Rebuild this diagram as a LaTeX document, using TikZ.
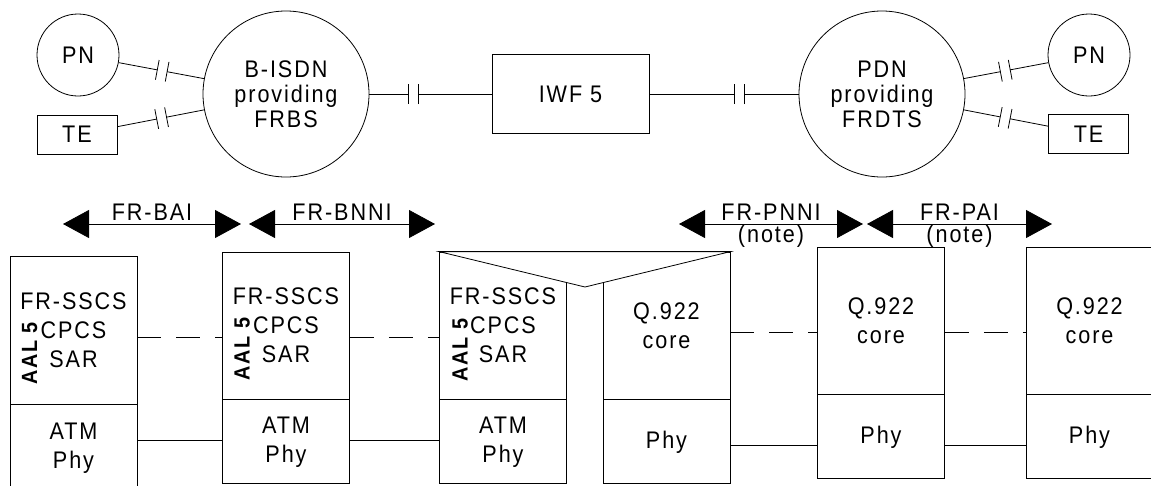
\documentclass[tikz,border=0pt]{standalone}
\usepackage{fontspec}
\setmainfont{Liberation Sans}[FakeStretch=0.9,LetterSpace=8]
\usepackage{tikz}
\usetikzlibrary{arrows.meta,positioning,calc}

\newcommand{\gapline}[3]{%
	\path (#1) -- coordinate[pos=#3] (gm) (#2);
	\draw (#1) -- ($(gm)!5pt!(#1)$) coordinate (ga);
	\draw (#2) -- ($(gm)!5pt!(#2)$) coordinate (gb);
	\draw ($(ga)!10pt!90:(gm)$) -- ($(ga)!10pt!-90:(gm)$);
	\draw ($(gb)!10pt!90:(gm)$) -- ($(gb)!10pt!-90:(gm)$);
}

\begin{document}
\begin{tikzpicture}[
			x=1pt, y=-1pt,
			line width=0.8pt,
			node distance=0pt,
			font=\fontsize{24}{29}\selectfont,
			net/.style={
				circle, draw, align=center, inner sep=0pt,
				minimum size=166pt, font=\fontsize{24}{25}\selectfont
			},
			pn/.style={circle, draw, inner sep=0pt, minimum size=82pt},
			term/.style={rectangle, draw, inner sep=0pt, minimum width=80pt, minimum height=39pt},
			layer/.style={
				rectangle, draw, align=center, inner sep=0pt,
				minimum width=127pt
			},
			aal/.style={rotate=90, inner sep=0pt, font=\fontsize{22}{22}\selectfont\bfseries},
			iface/.style={{Triangle[length=26pt,width=28pt]}-{Triangle[length=26pt,width=28pt]}},
			peer/.style={dash pattern=on 24pt off 15pt}
			]
			\useasboundingbox (0,0) rectangle (1151,485);

			\node[pn] (pnl) at (78,55) {PN};
			\node[term] (tel) at (77,134.5) {TE};
			\node[net] (bisdn) at (286,94) {B-ISDN\\providing\\FRBS};
			\node[rectangle, draw, minimum width=157pt, minimum height=79pt] (iwf) at (570.5,94) {IWF 5};
			\node[net] (pdn) at (882,94) {PDN\\providing\\FRDTS};
			\node[pn] (pnr) at (1089,55) {PN};
			\node[term] (ter) at (1088.5,134) {TE};
			\gapline{pnl}{bisdn}{0.51}
			\gapline{tel}{bisdn}{0.51}
			\gapline{bisdn}{iwf}{0.36}
			\gapline{iwf}{pdn}{0.6}
			\gapline{pdn}{pnr}{0.49}
			\gapline{pdn}{ter}{0.49}

			\coordinate (baiL) at (63,224);
			\coordinate (baiR) at (241,224);
			\coordinate (bnniL) at (249,224);
			\coordinate (bnniR) at (435,224);
			\coordinate (pnniL) at (679,224);
			\coordinate (pnniR) at (863,224);
			\coordinate (paiL) at (867,224);
			\coordinate (paiR) at (1052,224);
			\draw[iface] (baiL) -- node[above] (bai) {FR-BAI} (baiR);
			\draw[iface] (bnniL) -- node[above] (bnni) {FR-BNNI} (bnniR);
			\draw[iface] (pnniL) -- node[above] (pnni) {FR-PNNI} node[below, inner sep=1pt] (pnninote) {(note)} (pnniR);
			\draw[iface] (paiL) -- node[above] (pai) {FR-PAI} node[below, inner sep=1pt] (painote) {(note)} (paiR);

			\node[layer, minimum height=148pt] (u1) at (73.5,330) {FR-SSCS\\CPCS\\SAR};
			\node[layer, minimum height=86pt, below=of u1] (l1) {ATM\\Phy};
			\node[layer, minimum height=147pt] (u2) at (286,325.5) {FR-SSCS\\CPCS\\SAR};
			\node[layer, minimum height=84pt, below=of u2] (l2) {ATM\\Phy};
			\node[layer, minimum height=147pt] (u3) at (503,325.5) {FR-SSCS\\CPCS\\SAR};
			\node[layer, minimum height=84pt, below=of u3] (l3) {ATM\\Phy};
			\node[layer, minimum height=147pt] (u4) at (666.5,325.5) {Q.922\\core};
			\node[layer, minimum height=84pt, below=of u4] (l4) {Phy};
			\node[layer, minimum height=147pt] (u5) at (881,320.5) {Q.922\\core};
			\node[layer, minimum height=84pt, below=of u5] (l5) {Phy};
			\node[layer, minimum height=147pt] (u6) at (1089.5,320.5) {Q.922\\core};
			\node[layer, minimum height=84pt, below=of u6] (l6) {Phy};

			\node[aal] (aal1) at ($(u1.west)+(20,23.5)$) {AAL 5};
			\node[aal] (aal2) at ($(u2.west)+(20,23.5)$) {AAL 5};
			\node[aal] (aal3) at ($(u3.west)+(21,24.5)$) {AAL 5};

			\coordinate (iwfjoin) at (585,287);
			\draw[fill=white] (u3.north west) -- (u4.north east) -- (iwfjoin) -- cycle;

			\draw[peer] ([yshift=-7pt]u1.east) -- ([yshift=-7pt]u1.east -| u2.west);
			\draw[peer] ([yshift=-11.5pt]u2.east) -- ([yshift=-11.5pt]u2.east -| u3.west);
			\draw[peer] ([yshift=-6.5pt]u4.east) -- ([yshift=-6.5pt]u4.east -| u5.west);
			\draw[peer] ([yshift=-11.5pt]u5.east) -- ([yshift=-11.5pt]u5.east -| u6.west);
			\draw ([yshift=7pt]l1.east) -- ([yshift=7pt]l1.east -| l2.west);
			\draw ([yshift=1pt]l2.east) -- ([yshift=1pt]l2.east -| l3.west);
			\draw ([yshift=-4pt]l4.east) -- ([yshift=-4pt]l4.east -| l5.west);
			\draw ([yshift=-9pt]l5.east) -- ([yshift=-9pt]l5.east -| l6.west);
		\end{tikzpicture}
\end{document}
